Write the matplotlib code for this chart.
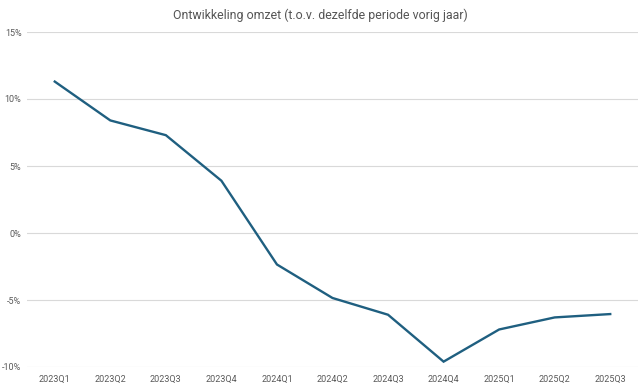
import numpy as np
import matplotlib
matplotlib.use('Agg')
import matplotlib.pyplot as plt
from matplotlib.ticker import FuncFormatter

# Data
quarters = ['2023Q1', '2023Q2', '2023Q3', '2023Q4', '2024Q1', '2024Q2',
            '2024Q3', '2024Q4', '2025Q1', '2025Q2', '2025Q3']
growth = [11.3, 8.4, 7.3, 3.9, -2.35, -4.85, -6.1, -9.6, -7.2, -6.3, -6.05]

plt.rcParams['font.family'] = ['Roboto', 'DejaVu Sans']

fig = plt.figure(figsize=(6.4, 3.86), dpi=100)
ax = fig.add_axes([27 / 640, 1 - 367 / 386, 611 / 640, 335 / 386])

x = np.arange(len(quarters))
ax.plot(x, growth, color='#1f5f80', linewidth=1.7, solid_joinstyle='miter')

ax.set_xlim(-0.5, len(quarters) - 0.5)
ax.set_ylim(-10, 15)
ax.set_yticks(np.arange(-10, 16, 5))
ax.yaxis.set_major_formatter(FuncFormatter(lambda v, p: f'{v:.0f}%'))
ax.set_xticks(x)
ax.set_xticklabels(quarters)

ax.grid(axis='y', color='#d9d9d9', linewidth=0.8)
ax.set_axisbelow(True)
for s in ax.spines.values():
    s.set_visible(False)
ax.tick_params(length=0, labelsize=6.5, colors='#595959', pad=6)
ax.tick_params(axis='y', pad=4)

fig.text(0.5, 1 - 15 / 386, 'Ontwikkeling omzet (t.o.v. dezelfde periode vorig jaar)',
         ha='center', va='center', fontsize=8.9, color='#555555')

fig.savefig('out.png', dpi=100)
